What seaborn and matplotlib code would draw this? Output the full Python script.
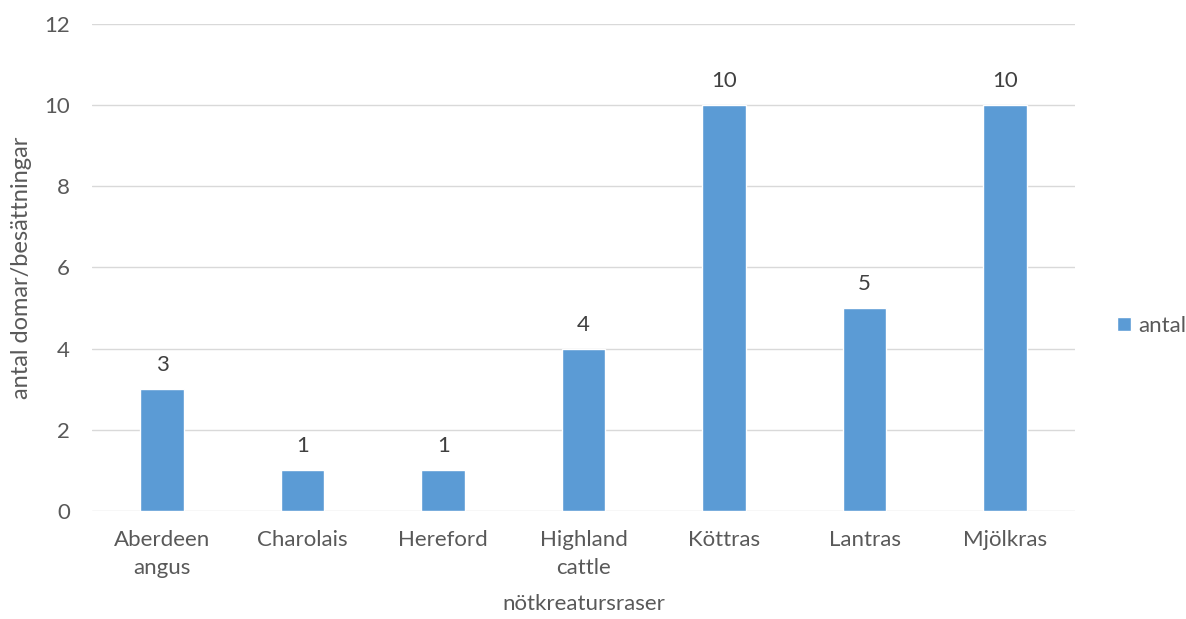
import pandas as pd
import seaborn as sns
import matplotlib.pyplot as plt

# Data
raser = ["Aberdeen\nangus", "Charolais", "Hereford", "Highland\ncattle",
         "Köttras", "Lantras", "Mjölkras"]
antal = [3, 1, 1, 4, 10, 5, 10]

df = pd.DataFrame({"ras": raser, "antal": antal})

sns.set_style("white")
plt.rcParams["font.family"] = ["Lato", "DejaVu Sans"]
text_col = "#595959"
bar_col = "#5B9BD5"

fig = plt.figure(figsize=(11.86, 6.19), dpi=100)
ax = fig.add_axes([0.0776, 0.1745, 0.829, 0.787])

sns.barplot(data=df, x="ras", y="antal", color=bar_col, width=0.31,
            saturation=1, ax=ax, label="antal", zorder=3)

# value labels above bars
for i, v in enumerate(antal):
    ax.annotate(str(v), (i, v), xytext=(0, 10), textcoords="offset points",
                ha="center", va="bottom", fontsize=16, color="#404040")

ax.set_ylim(0, 12)
ax.set_xlim(-0.5, len(raser) - 0.5)
ax.set_yticks(range(0, 13, 2))
ax.yaxis.grid(True, color="#D9D9D9", linewidth=1, zorder=0)
for s in ax.spines.values():
    s.set_visible(False)
ax.tick_params(axis="both", length=0, labelsize=16, colors=text_col)
ax.tick_params(axis="y", pad=16)
ax.tick_params(axis="x", pad=14)
for lbl in ax.get_xticklabels():
    lbl.set_linespacing(1.45)

ax.set_xlabel("nötkreatursraser", fontsize=16, color=text_col, labelpad=12)
ax.set_ylabel("antal domar/besättningar", fontsize=17, color=text_col, labelpad=9)

leg = ax.legend(loc="center left", bbox_to_anchor=(1.042, 0.38), frameon=False,
                borderaxespad=0, borderpad=0, fontsize=16,
                handlelength=0.65, handleheight=0.65, handletextpad=0.35)
for t in leg.get_texts():
    t.set_color(text_col)

fig.savefig("out.png", dpi=100)
